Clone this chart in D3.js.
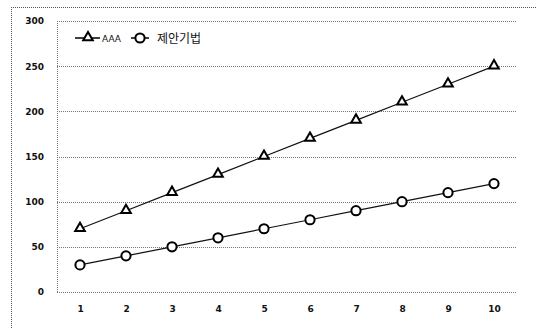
<!DOCTYPE html>
<html><head><meta charset="utf-8">
<script src="https://cdn.jsdelivr.net/npm/d3@7/dist/d3.min.js"></script>
<style>body{margin:0;background:#fff}svg{display:block}</style>
</head><body><svg id="c" width="537" height="329"></svg>
<script>
const categories = [1,2,3,4,5,6,7,8,9,10];
const aaa = [70,90,110,130,150,170,190,210,230,250];
const proposed = [30,40,50,60,70,80,90,100,110,120];
const yTicks = [0,50,100,150,200,250,300];
const seriesNames = ["AAA","제안기법"];

const svg = d3.select("#c");
const L=57,R=517,T=21,B=292;
const x = d3.scalePoint().domain(categories).range([L,R]).padding(0.5);
const y = d3.scaleLinear().domain([0,300]).range([B,T]);

// outer border (top and left dotted)
svg.append("line").attr("x1",11).attr("x2",537).attr("y1",7.5).attr("y2",7.5).attr("stroke","#555").attr("stroke-dasharray","1,1");
svg.append("line").attr("x1",11.5).attr("x2",11.5).attr("y1",7).attr("y2",329).attr("stroke","#555").attr("stroke-dasharray","1,1");

// gridlines
svg.append("g").selectAll("line").data(yTicks).join("line")
  .attr("x1",L).attr("x2",R-1).attr("y1",d=>Math.round(y(d))+0.5).attr("y2",d=>Math.round(y(d))+0.5)
  .attr("stroke","#777").attr("stroke-dasharray","1,1");
svg.append("line").attr("x1",L+0.5).attr("x2",L+0.5).attr("y1",T).attr("y2",B).attr("stroke","#777").attr("stroke-dasharray","1,1");

// y axis
const ya = svg.append("g").attr("transform",`translate(${L-13},0)`)
  .call(d3.axisLeft(y).tickValues(yTicks).tickSize(0).tickPadding(0));
ya.select(".domain").remove();
ya.selectAll("text").attr("font-family","DejaVu Sans").attr("font-size","9px").attr("font-weight","bold").attr("fill","#111");

// x axis
const xa = svg.append("g").attr("transform",`translate(0,${B+14})`)
  .call(d3.axisBottom(x).tickSize(0).tickPadding(0));
xa.select(".domain").remove();
xa.selectAll("text").attr("font-family","DejaVu Sans").attr("font-size","9px").attr("font-weight","bold").attr("fill","#111");

const line = d3.line().x((d,i)=>x(categories[i])).y(d=>y(d));
svg.append("path").datum(aaa).attr("d",line).attr("fill","none").attr("stroke","#111").attr("stroke-width",1.2);
svg.append("path").datum(proposed).attr("d",line).attr("fill","none").attr("stroke","#111").attr("stroke-width",1.2);

const tri = d3.symbol().type(d3.symbolTriangle).size(40);
function triMark(g,cx,cy){
  g.append("path").attr("d",tri()).attr("transform",`translate(${cx},${cy-0.5})`)
   .attr("fill","#fff").attr("stroke","#000").attr("stroke-width",2);
}
function circMark(g,cx,cy){
  g.append("circle").attr("cx",cx).attr("cy",cy).attr("r",4.6)
   .attr("fill","#fff").attr("stroke","#000").attr("stroke-width",2);
}
const mg = svg.append("g");
aaa.forEach((v,i)=>triMark(mg,x(categories[i]),y(v)));
proposed.forEach((v,i)=>circMark(mg,x(categories[i]),y(v)));

// legend
const lg = svg.append("g");
const ly = 38;
lg.append("line").attr("x1",75).attr("x2",100).attr("y1",ly).attr("y2",ly).attr("stroke","#000").attr("stroke-width",1.5);
triMark(lg,88,ly);
lg.append("text").attr("x",102).attr("y",ly+3.5).text(seriesNames[0]).attr("font-family","DejaVu Sans").attr("font-size","9px").attr("fill","#111");
lg.append("line").attr("x1",131).attr("x2",149).attr("y1",ly).attr("y2",ly).attr("stroke","#000").attr("stroke-width",1.5);
circMark(lg,140,ly);
lg.append("text").attr("x",157).attr("y",ly+5).text(seriesNames[1]).attr("font-family","Noto Sans CJK KR").attr("font-size","12px").attr("fill","#111");
</script></body></html>
